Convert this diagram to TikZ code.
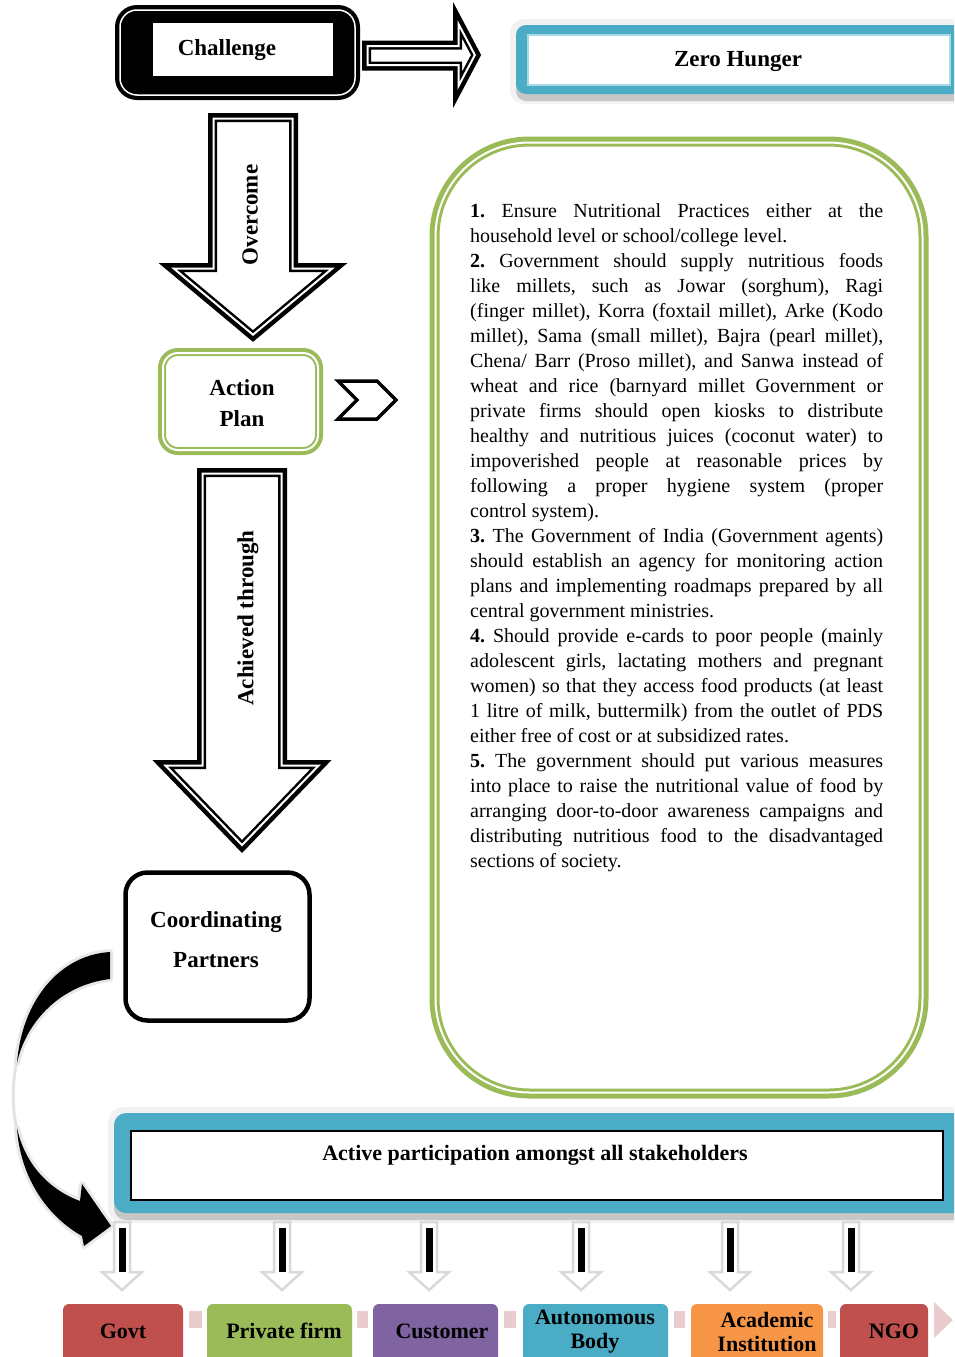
\documentclass[tikz,border=0pt]{standalone}
\usepackage{fontspec}
\setmainfont{Liberation Serif}
\definecolor{tealA}{HTML}{4BACC6}
\definecolor{greenA}{HTML}{9BBB59}
\definecolor{redA}{HTML}{C0504D}
\definecolor{purpleA}{HTML}{8064A2}
\definecolor{orangeA}{HTML}{F79646}
\definecolor{pinkA}{HTML}{E8CCCE}
\definecolor{ltblueA}{HTML}{A9D8E6}
\newcommand\bandshape[4]{%
  \fill[white] #4;
  \draw[#1, line width=#2] #4;
  \begin{scope}\clip #4; \draw[white, line width=#3] #4; \end{scope}}
\begin{document}
\begin{tikzpicture}[x=1pt,y=-1pt,line join=miter,
  lbl/.style={font=\fontsize{23}{31}\selectfont\bfseries, inner sep=0pt, align=center},
  botlbl/.style={font=\fontsize{22}{24}\selectfont\bfseries, inner sep=0pt, align=center},
  pinkbox/.style={fill=pinkA},
  smallarrow/.style={draw=gray!30, line width=2.5pt, fill=white}]
\useasboundingbox (0,0) rectangle (954,1357);
\clip (0,0) rectangle (954,1357);

% ---------- Challenge ----------
\fill[black, rounded corners=22] (115,5) rectangle (360,100);
\draw[white, line width=1.5pt, rounded corners=17] (120,10) rectangle (355,95);
\fill[white] (153,23) rectangle (333,76);
\node[lbl] (challenge) at (227,50) {Challenge};

% ---------- right block arrow ----------
\bandshape{black}{9pt}{4pt}{(366.5,45) -- (457.5,45) -- (457.5,20) -- (476,55) -- (457.5,90) -- (457.5,66) -- (366.5,66) -- cycle}

% ---------- Zero Hunger ----------
\fill[gray!10, rounded corners=14] (510,19) rectangle (975,104);
\fill[gray!45, rounded corners=10] (516,30) rectangle (975,101);
\fill[tealA, rounded corners=10] (516,25) rectangle (975,94);
\draw[ltblueA, line width=2pt, fill=white] (528,35) rectangle (950,85);
\node[lbl] (zero) at (738,62) {Zero Hunger};

% ---------- Overcome arrow ----------
\bandshape{black}{9pt}{4pt}{(212.5,117.5) -- (293.5,117.5) -- (293.5,267.5) -- (335,267.5) -- (253,336) -- (171,267.5) -- (212.5,267.5) -- cycle}
\node[lbl, rotate=90] (overcome) at (250,215) {Overcome};

% ---------- Action Plan ----------
\bandshape{greenA}{8pt}{4pt}{[rounded corners=16] (162,352) rectangle (319,451)}
\node[lbl] (action) at (242,403) {Action\\Plan};

% ---------- chevron ----------
\draw[black, line width=3.5pt, fill=white] (338,381) -- (377,381) -- (396,400) -- (377,419) -- (338,419) -- (357,400) -- cycle;

% ---------- Achieved through arrow ----------
\bandshape{black}{9pt}{4pt}{(201.5,472.5) -- (282.5,472.5) -- (282.5,764.5) -- (321,764.5) -- (242,846.5) -- (163,764.5) -- (201.5,764.5) -- cycle}
\node[lbl, rotate=90] (achieved) at (248,618) {Achieved through};

% ---------- big green box ----------
\bandshape{greenA}{10pt}{4pt}{[rounded corners=95] (434.5,141.5) rectangle (923.5,1093.5)}
\node[anchor=north west, inner sep=0pt, text width=413pt, align=justify,
      font=\fontsize{20}{25}\selectfont] (body) at (470,203)
{\frenchspacing\hyphenpenalty=10000 \exhyphenpenalty=10000 \parindent=0pt
\textbf{1.} Ensure Nutritional Practices either at the\linebreak
household level or school/college level.\par
\textbf{2.} Government should supply nutritious foods\linebreak
like millets, such as Jowar (sorghum), Ragi\linebreak
(finger millet), Korra (foxtail millet), Arke (Kodo\linebreak
millet), Sama (small millet), Bajra (pearl millet),\linebreak
Chena/ Barr (Proso millet), and Sanwa instead of\linebreak
wheat and rice (barnyard millet Government or\linebreak
private firms should open kiosks to distribute\linebreak
healthy and nutritious juices (coconut water) to\linebreak
impoverished people at reasonable prices by\linebreak
following a proper hygiene system (proper\linebreak
control system).\par
\textbf{3.} The Government of India (Government agents)\linebreak
should establish an agency for monitoring action\linebreak
plans and implementing roadmaps prepared by all\linebreak
central government ministries.\par
\textbf{4.} Should provide e-cards to poor people (mainly\linebreak
adolescent girls, lactating mothers and pregnant\linebreak
women) so that they access food products (at least\linebreak
1 litre of milk, buttermilk) from the outlet of PDS\linebreak
either free of cost or at subsidized rates.\par
\textbf{5.} The government should put various measures\linebreak
into place to raise the nutritional value of food by\linebreak
arranging door-to-door awareness campaigns and\linebreak
distributing nutritious food to the disadvantaged\linebreak
sections of society.\par};

% ---------- Coordinating Partners ----------
\draw[black, line width=4.5pt, fill=white, rounded corners=22] (125.5,872.5) rectangle (309.5,1020.5);
\node[lbl, font=\fontsize{23}{40}\selectfont\bfseries] (coord) at (216,940) {Coordinating\\Partners};

% ---------- curved arrow ----------
\draw[gray!18, line width=6pt, line join=round, fill=gray!18] (110,952) .. controls (60,955) and (22,1000) .. (17,1063) .. controls (26,1022) and (60,985) .. (110,979) -- cycle;
\draw[gray!18, line width=6pt, line join=round, fill=gray!18] (17,1128) .. controls (20,1175) and (45,1215) .. (82,1236) -- (84,1246) -- (111,1226) -- (82,1184) -- (80,1201) .. controls (50,1190) and (25,1165) .. (17,1128) -- cycle;
\draw[gray!22, line width=3pt] (17,1060) .. controls (12,1085) and (12,1108) .. (17,1130);
\fill[black] (110,952) .. controls (60,955) and (22,1000) .. (17,1063) .. controls (26,1022) and (60,985) .. (110,979) -- cycle;
\fill[black] (17,1128) .. controls (20,1175) and (45,1215) .. (82,1236) -- (84,1246) -- (111,1226) -- (82,1184) -- (80,1201) .. controls (50,1190) and (25,1165) .. (17,1128) -- cycle;

% ---------- Active participation ----------
\fill[gray!10, rounded corners=16] (108,1107) rectangle (975,1223);
\fill[gray!45, rounded corners=12] (114,1118) rectangle (975,1220);
\fill[tealA, rounded corners=12] (114,1113) rectangle (975,1213);
\draw[black, line width=1.5pt, fill=white] (131,1131) rectangle (943,1200);
\node[botlbl] (active) at (535,1155) {Active participation amongst all stakeholders};

% ---------- small arrows ----------
\foreach \x in {122,282,429,581,730,851}{
  \draw[smallarrow] (\x-8,1222) -- (\x+8,1222) -- (\x+8,1272) -- (\x+20,1272) -- (\x,1290) -- (\x-20,1272) -- (\x-8,1272) -- cycle;
  \fill[black] (\x-3.5,1228) rectangle (\x+3.5,1272);
}

% ---------- bottom boxes ----------
\fill[pinkbox] (189,1311) rectangle (202,1328);
\fill[pinkbox] (357,1311) rectangle (368,1328);
\fill[pinkbox] (504,1311) rectangle (516,1328);
\fill[pinkbox] (674,1311) rectangle (685,1328);
\fill[pinkbox] (828,1311) rectangle (836,1328);
\fill[pinkbox] (934,1302) -- (953,1320) -- (934,1338) -- cycle;
\fill[redA, rounded corners=6] (63,1304) rectangle (183,1380);
\fill[greenA, rounded corners=6] (207,1304) rectangle (352,1380);
\fill[purpleA, rounded corners=6] (373,1304) rectangle (498,1380);
\fill[tealA, rounded corners=6] (523,1304) rectangle (668,1380);
\fill[orangeA, rounded corners=6] (691,1304) rectangle (823,1380);
\fill[redA, rounded corners=6] (840,1304) rectangle (928,1380);
\node[botlbl] (govt) at (123,1331) {Govt};
\node[botlbl] (private) at (284,1331) {Private firm};
\node[botlbl] (customer) at (442,1331) {Customer};
\node[botlbl] (auto) at (595,1332) {Autonomous\\Body};
\node[botlbl] (acad) at (767,1332) {Academic\\Institution};
\node[botlbl] (ngo) at (894,1331) {NGO};
\end{tikzpicture}
\end{document}
